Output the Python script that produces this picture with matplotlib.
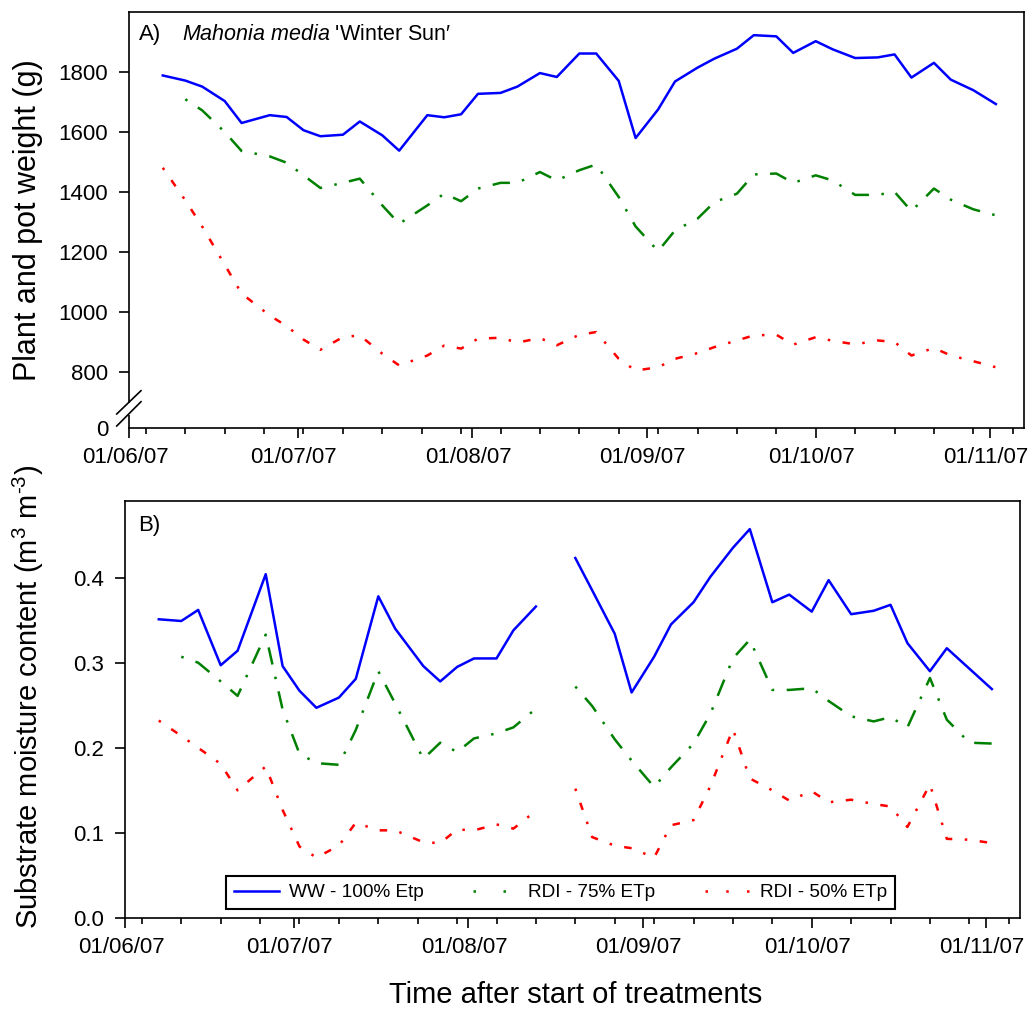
import matplotlib
matplotlib.use('Agg')
import matplotlib.pyplot as plt
import matplotlib.dates as mdates
import matplotlib.transforms as mtransforms
from matplotlib.lines import Line2D
import numpy as np

plt.rcParams['font.family'] = ['Liberation Sans', 'DejaVu Sans']
plt.rcParams['mathtext.fontset'] = 'custom'
plt.rcParams['mathtext.rm'] = 'Liberation Sans'
plt.rcParams['mathtext.it'] = 'Liberation Sans:italic'

nan = np.nan

# ---------------- data ----------------
dates = ['2007-06-07', '2007-06-11', '2007-06-14', '2007-06-18', '2007-06-21',
         '2007-06-26', '2007-06-29', '2007-07-02', '2007-07-05', '2007-07-09',
         '2007-07-12', '2007-07-16', '2007-07-19', '2007-07-24', '2007-07-27',
         '2007-07-30', '2007-08-02', '2007-08-06', '2007-08-09', '2007-08-13',
         '2007-08-16', '2007-08-20', '2007-08-23', '2007-08-27', '2007-08-30',
         '2007-09-03', '2007-09-06', '2007-09-10', '2007-09-13', '2007-09-17',
         '2007-09-20', '2007-09-24', '2007-09-27', '2007-10-01', '2007-10-04',
         '2007-10-08', '2007-10-12', '2007-10-15', '2007-10-18', '2007-10-22',
         '2007-10-25', '2007-10-29', '2007-11-02']

weight_ww = [1787, 1770, 1750, 1702, 1629, 1655, 1649, 1605, 1585, 1590, 1634, 1588,
             1537, 1655, 1648, 1658, 1726, 1729, 1750, 1795, 1782, 1860, 1860, 1769,
             1579, 1674, 1767, 1813, 1843, 1876, 1921, 1917, 1862, 1901, 1874, 1845,
             1847, 1857, 1780, 1829, 1773, 1738, 1692]
weight_rdi75 = [nan, 1708, 1671, 1599, 1536, 1518, 1497, 1455, 1413, 1430, 1444, 1355,
                1294, 1355, 1394, 1369, 1411, 1430, 1430, 1466, 1438, 1472, 1491, 1383,
                1285, 1203, 1272, 1311, 1366, 1394, 1458, 1461, 1430, 1455, 1438, 1390,
                1390, 1400, 1336, 1411, 1374, 1342, 1322]
weight_rdi50 = [1480, 1372, 1285, 1158, 1062, 989, 954, 909, 875, 917, 923, 862,
                823, 856, 889, 879, 912, 915, 899, 914, 890, 925, 934, 845,
                806, 817, 845, 864, 884, 906, 923, 925, 892, 917, 905, 893,
                906, 901, 856, 881, 856, 837, 817]

smc_ww = [0.351, 0.349, 0.362, 0.297, 0.314, 0.404, 0.296, 0.267, 0.247, 0.259, 0.281,
          0.378, 0.340, 0.296, 0.278, 0.295, 0.305, 0.305, 0.338, 0.366, nan, 0.423,
          0.385, 0.334, 0.265, 0.307, 0.345, 0.371, 0.401, 0.435, 0.457, 0.371, 0.380,
          0.360, 0.397, 0.357, 0.361, 0.368, 0.323, 0.290, 0.317, 0.293, 0.269]
smc_rdi75 = [nan, 0.307, 0.300, 0.278, 0.261, 0.333, 0.245, 0.193, 0.182, 0.180, 0.221,
             0.290, 0.252, 0.187, 0.206, 0.195, 0.211, 0.217, 0.224, 0.246, nan, 0.272,
             0.249, 0.210, 0.185, 0.154, 0.177, 0.205, 0.240, 0.305, 0.327, 0.268, 0.268,
             0.270, 0.255, 0.237, 0.231, 0.236, 0.224, 0.282, 0.233, 0.206, 0.205]
smc_rdi50 = [0.232, 0.214, 0.200, 0.181, 0.150, 0.178, 0.127, 0.084, 0.071, 0.085, 0.112,
             0.103, 0.103, 0.089, 0.088, 0.104, 0.103, 0.110, 0.105, 0.126, nan, 0.152,
             0.095, 0.085, 0.082, 0.071, 0.109, 0.115, 0.155, 0.222, 0.164, 0.150, 0.138,
             0.149, 0.136, 0.139, 0.134, 0.131, 0.107, 0.157, 0.093, 0.092, 0.088]

labels = ['WW - 100% Etp', 'RDI - 75% ETp', 'RDI - 50% ETp']
weight_ticks = [800, 1000, 1200, 1400, 1600, 1800]
smc_ticks = [0.0, 0.1, 0.2, 0.3, 0.4]

# ---------------- styles ----------------
colors = ['#0000ff', '#008000', '#ff0000']
styles = ['-', (0, (1, 5, 7, 5)), (0, (1, 5, 3, 5))]
leg_styles = ['-', (0, (1, 11)), (0, (1, 7.3))]
LW = 1.8

x = np.array(dates, dtype='datetime64[D]')

fig = plt.figure(figsize=(10.3, 10.1), dpi=100)
ax1 = fig.add_axes([129 / 1030, 1 - 428 / 1010, 895 / 1030, 416 / 1010])
ax2 = fig.add_axes([125 / 1030, 1 - 918 / 1010, 895 / 1030, 417 / 1010])

for ys, c, s in zip([weight_ww, weight_rdi75, weight_rdi50], colors, styles):
    ax1.plot(x, ys, color=c, lw=LW, linestyle=s)
for ys, c, s in zip([smc_ww, smc_rdi75, smc_rdi50], colors, styles):
    ax2.plot(x, ys, color=c, lw=LW, linestyle=s)

shift = mtransforms.ScaledTranslation(-4 / 100, 0, fig.dpi_scale_trans)
for ax in (ax1, ax2):
    ax.set_xlim(np.datetime64('2007-06-01'), np.datetime64('2007-11-07'))
    ax.xaxis.set_major_locator(mdates.MonthLocator())
    ax.xaxis.set_major_formatter(mdates.DateFormatter('%d/%m/%y'))
    ax.xaxis.set_minor_locator(mdates.WeekdayLocator(byweekday=mdates.MO))
    ax.tick_params(axis='x', which='major', length=7, width=1.2, direction='out',
                   labelsize=16, pad=7)
    ax.tick_params(axis='x', which='minor', length=4, width=1.2, direction='out')
    ax.tick_params(axis='y', which='major', length=7, width=1.2, direction='out',
                   labelsize=16, pad=8)
    for sp in ax.spines.values():
        sp.set_linewidth(1.2)

# top panel: broken y axis
YBOT, YTOP = 615, 1998
ax1.set_ylim(YBOT, YTOP)
ax1.set_yticks([YBOT] + weight_ticks)
ax1.set_yticklabels(['0'] + [str(t) for t in weight_ticks])
ax1.yaxis.get_major_ticks()[0].tick1line.set_visible(False)
ax1.spines['left'].set_bounds(700, YTOP)
ax1.plot([0, 0], [YBOT, 657], transform=ax1.get_yaxis_transform(), color='k',
         lw=1.2, clip_on=False, solid_capstyle='butt')
ax1.plot([-0.0137, 0.0134], [0.0337, 0.0897], transform=ax1.transAxes, color='k',
         lw=1.2, clip_on=False)
ax1.plot([-0.0137, 0.0134], [0.0048, 0.0632], transform=ax1.transAxes, color='k',
         lw=1.2, clip_on=False)

ax1.text(0.011, 0.945, 'A)', transform=ax1.transAxes, fontsize=16,
         ha='left', va='center')
ax1.text(0.059, 0.945, r"$\mathit{Mahonia\ media}$ 'Winter Sun′", transform=ax1.transAxes,
         fontsize=15.5, ha='left', va='center')

# bottom panel
ax2.set_ylim(0, 0.49)
ax2.set_yticks(smc_ticks)
ax2.set_yticklabels([f'{t:.1f}' for t in smc_ticks])
ax2.text(0.0145, 0.942, 'B)', transform=ax2.transAxes, fontsize=16,
         ha='left', va='center')

# x tick labels sit slightly left of their ticks, as in the reference
fig.canvas.draw()
for ax in (ax1, ax2):
    for lab in ax.get_xticklabels():
        lab.set_transform(lab.get_transform() + shift)

handles = [Line2D([], [], color=c, lw=LW, linestyle=s) for c, s in zip(colors, leg_styles)]
leg = ax2.legend(handles, labels, loc='lower left', bbox_to_anchor=(0.1128, 0.0216),
                 ncol=3, fontsize=13.7, frameon=True, fancybox=False, edgecolor='k',
                 framealpha=1, handlelength=2.4, handletextpad=0.5, columnspacing=2.6,
                 borderpad=0.4, borderaxespad=0)
leg.get_frame().set_linewidth(1.5)

fig.text(28 / 1030, 1 - 220 / 1010, 'Plant and pot weight (g)', rotation=90,
         ha='center', va='center', fontsize=22)
fig.text(28 / 1030, 1 - 697 / 1010,
         r'Substrate moisture content (m$^{3}$ m$^{\text{-3}}$)',
         rotation=90, ha='center', va='center', fontsize=21)
fig.text(576 / 1030, 1 - 995 / 1010, 'Time after start of treatments',
         ha='center', va='center', fontsize=21)

fig.savefig('out.png', dpi=100)
